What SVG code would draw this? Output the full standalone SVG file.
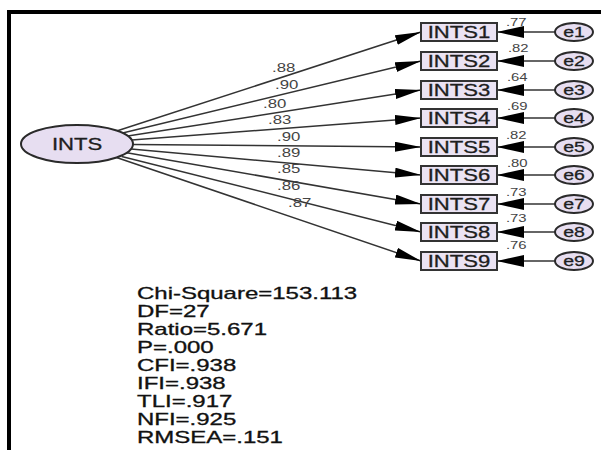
<svg xmlns="http://www.w3.org/2000/svg" width="609" height="450" viewBox="0 0 609 450">
  <style>
    .lbl { font-family: "Liberation Sans", Arial, sans-serif; fill: #1e1e1e; }
    .node { font-size: 16px; text-anchor: middle; stroke: #1e1e1e; stroke-width: 0.3; }
    .err { font-size: 15px; text-anchor: middle; stroke: #1e1e1e; stroke-width: 0.3; }
    .coef { font-size: 12px; fill: #444; }
    .ecoef { font-size: 11px; fill: #444; }
    .stat { font-size: 16px; fill: #111; stroke: #111; stroke-width: 0.3; }
    .box { fill: #ebe3f3; stroke: #333; stroke-width: 2; }
    .lat { fill: #e7def1; stroke: #2a2a2a; stroke-width: 2; }
    .edge { stroke: #333; stroke-width: 1.5; fill: none; }
  </style>
  <defs>
    <marker id="head" viewBox="0 0 26 10" refX="26" refY="5" markerWidth="26" markerHeight="10" markerUnits="userSpaceOnUse" orient="auto">
      <path d="M0,0 L26,5 L0,10 z" fill="#000"/>
    </marker>
    <marker id="ehead" viewBox="0 0 27 12" refX="27" refY="6" markerWidth="27" markerHeight="12" markerUnits="userSpaceOnUse" orient="auto">
      <path d="M0,0 L27,6 L0,12 z" fill="#000"/>
    </marker>
  </defs>

  <rect width="609" height="450" fill="#fff"/>
  <!-- frame -->
  <rect x="7" y="10" width="594" height="4" fill="#000"/>
  <rect x="7" y="10" width="4" height="440" fill="#000"/>

  <!-- connectors -->
  <g id="connectors">
    <g class="edge" marker-end="url(#head)">
      <line x1="117.4" y1="130.8" x2="421" y2="32"/>
      <line x1="122.6" y1="133.0" x2="421" y2="61"/>
      <line x1="127.8" y1="136.0" x2="421" y2="90"/>
      <line x1="131.7" y1="139.9" x2="421" y2="118"/>
      <line x1="133.0" y1="144.5" x2="421" y2="147"/>
      <line x1="131.1" y1="148.9" x2="421" y2="175"/>
      <line x1="126.8" y1="152.7" x2="421" y2="204"/>
      <line x1="121.7" y1="156.4" x2="421" y2="232"/>
      <line x1="116.5" y1="157.5" x2="421" y2="261"/>
    </g>
    <g class="edge" marker-end="url(#ehead)">
      <line x1="555" y1="32" x2="497" y2="32"/>
      <line x1="555" y1="61" x2="497" y2="61"/>
      <line x1="555" y1="90" x2="497" y2="90"/>
      <line x1="555" y1="118" x2="497" y2="118"/>
      <line x1="555" y1="147" x2="497" y2="147"/>
      <line x1="555" y1="175" x2="497" y2="175"/>
      <line x1="555" y1="204" x2="497" y2="204"/>
      <line x1="555" y1="232" x2="497" y2="232"/>
      <line x1="555" y1="261" x2="497" y2="261"/>
    </g>
    <!-- loadings -->
    <g class="lbl coef">
      <text transform="translate(272,72) scale(1.4,1)">.88</text>
      <text transform="translate(275,89) scale(1.4,1)">.90</text>
      <text transform="translate(263,108) scale(1.4,1)">.80</text>
      <text transform="translate(268,124) scale(1.4,1)">.83</text>
      <text transform="translate(277,141) scale(1.4,1)">.90</text>
      <text transform="translate(277,157) scale(1.4,1)">.89</text>
      <text transform="translate(277,173) scale(1.4,1)">.85</text>
      <text transform="translate(277,190) scale(1.4,1)">.86</text>
      <text transform="translate(288,207) scale(1.4,1)">.87</text>
    </g>
    <!-- squared multiple correlations -->
    <g class="lbl ecoef">
      <text transform="translate(506,26) scale(1.35,1)">.77</text>
      <text transform="translate(508,52) scale(1.35,1)">.82</text>
      <text transform="translate(507,81) scale(1.35,1)">.64</text>
      <text transform="translate(507,110) scale(1.35,1)">.69</text>
      <text transform="translate(506,139) scale(1.35,1)">.82</text>
      <text transform="translate(507,167) scale(1.35,1)">.80</text>
      <text transform="translate(506,196) scale(1.35,1)">.73</text>
      <text transform="translate(506,222) scale(1.35,1)">.73</text>
      <text transform="translate(506,249) scale(1.35,1)">.76</text>
    </g>
  </g>

  <!-- latent factor -->
  <g id="INTS">
    <ellipse class="lat" cx="77" cy="144" rx="56" ry="19"/>
    <text class="lbl node" transform="translate(77,150) scale(1.38,1)">INTS</text>
  </g>

  <!-- observed indicators -->
  <g id="INTS1"><rect class="box" x="421" y="23" width="76" height="18"/><text class="lbl node" transform="translate(459,38) scale(1.38,1)">INTS1</text></g>
  <g id="INTS2"><rect class="box" x="421" y="52" width="76" height="18"/><text class="lbl node" transform="translate(459,67) scale(1.38,1)">INTS2</text></g>
  <g id="INTS3"><rect class="box" x="421" y="81" width="76" height="18"/><text class="lbl node" transform="translate(459,96) scale(1.38,1)">INTS3</text></g>
  <g id="INTS4"><rect class="box" x="421" y="109" width="76" height="18"/><text class="lbl node" transform="translate(459,124) scale(1.38,1)">INTS4</text></g>
  <g id="INTS5"><rect class="box" x="421" y="138" width="76" height="18"/><text class="lbl node" transform="translate(459,153) scale(1.38,1)">INTS5</text></g>
  <g id="INTS6"><rect class="box" x="421" y="166" width="76" height="18"/><text class="lbl node" transform="translate(459,181) scale(1.38,1)">INTS6</text></g>
  <g id="INTS7"><rect class="box" x="421" y="195" width="76" height="18"/><text class="lbl node" transform="translate(459,210) scale(1.38,1)">INTS7</text></g>
  <g id="INTS8"><rect class="box" x="421" y="223" width="76" height="18"/><text class="lbl node" transform="translate(459,238) scale(1.38,1)">INTS8</text></g>
  <g id="INTS9"><rect class="box" x="421" y="252" width="76" height="18"/><text class="lbl node" transform="translate(459,267) scale(1.38,1)">INTS9</text></g>

  <!-- error terms -->
  <g id="e1"><ellipse class="lat" cx="574" cy="32" rx="19" ry="9"/><text class="lbl err" transform="translate(574,37) scale(1.3,1)">e1</text></g>
  <g id="e2"><ellipse class="lat" cx="574" cy="61" rx="19" ry="9"/><text class="lbl err" transform="translate(574,66) scale(1.3,1)">e2</text></g>
  <g id="e3"><ellipse class="lat" cx="574" cy="90" rx="19" ry="9"/><text class="lbl err" transform="translate(574,95) scale(1.3,1)">e3</text></g>
  <g id="e4"><ellipse class="lat" cx="574" cy="118" rx="19" ry="9"/><text class="lbl err" transform="translate(574,123) scale(1.3,1)">e4</text></g>
  <g id="e5"><ellipse class="lat" cx="574" cy="147" rx="19" ry="9"/><text class="lbl err" transform="translate(574,152) scale(1.3,1)">e5</text></g>
  <g id="e6"><ellipse class="lat" cx="574" cy="175" rx="19" ry="9"/><text class="lbl err" transform="translate(574,180) scale(1.3,1)">e6</text></g>
  <g id="e7"><ellipse class="lat" cx="574" cy="204" rx="19" ry="9"/><text class="lbl err" transform="translate(574,209) scale(1.3,1)">e7</text></g>
  <g id="e8"><ellipse class="lat" cx="574" cy="232" rx="19" ry="9"/><text class="lbl err" transform="translate(574,237) scale(1.3,1)">e8</text></g>
  <g id="e9"><ellipse class="lat" cx="574" cy="261" rx="19" ry="9"/><text class="lbl err" transform="translate(574,266) scale(1.3,1)">e9</text></g>

  <!-- fit statistics -->
  <g id="fit" class="lbl stat">
    <text transform="translate(137,299) scale(1.5,1)">Chi-Square=153.113</text>
    <text transform="translate(137,317) scale(1.5,1)">DF=27</text>
    <text transform="translate(137,335) scale(1.5,1)">Ratio=5.671</text>
    <text transform="translate(137,353) scale(1.5,1)">P=.000</text>
    <text transform="translate(137,371) scale(1.5,1)">CFI=.938</text>
    <text transform="translate(137,389) scale(1.5,1)">IFI=.938</text>
    <text transform="translate(137,407) scale(1.5,1)">TLI=.917</text>
    <text transform="translate(137,425) scale(1.5,1)">NFI=.925</text>
    <text transform="translate(137,443) scale(1.5,1)">RMSEA=.151</text>
  </g>
</svg>
